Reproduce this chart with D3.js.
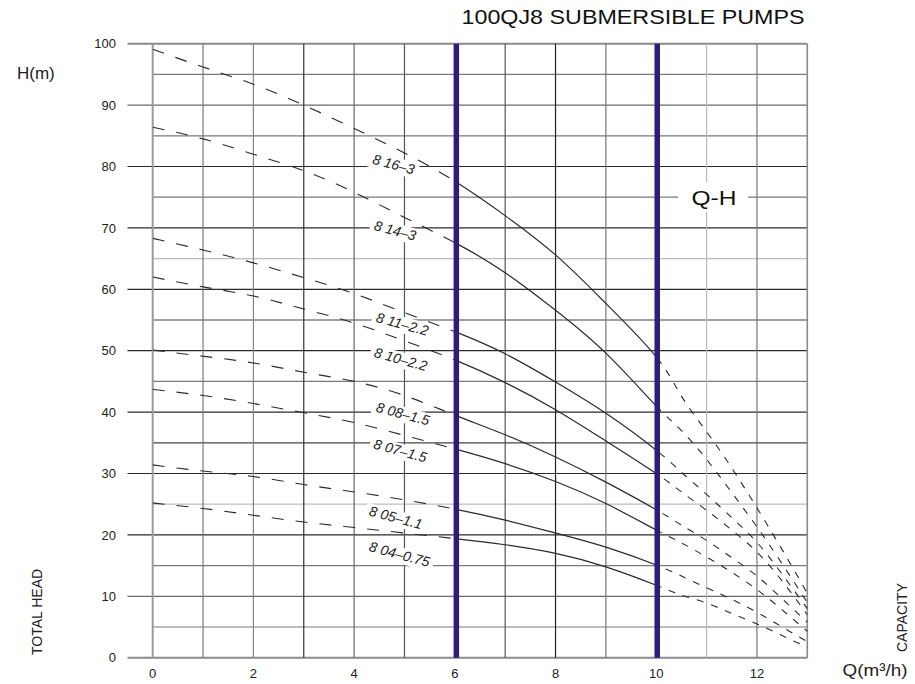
<!DOCTYPE html>
<html><head><meta charset="utf-8">
<script src="https://cdn.jsdelivr.net/npm/d3@7"></script>
<style>
body{margin:0;background:#fff}
svg{display:block;font-family:"Liberation Sans",Arial,Helvetica,sans-serif}
</style>
</head><body>
<svg id="chart" width="915" height="684"></svg>
<script>
// ---------------- DATA ----------------
const flow = [0,1,2,3,4,5,6,7,8,9,10,10.5,11,11.5,12,12.5,13];
const modelNames = ["8 16–3","8 14–3","8 11–2.2","8 10–2.2","8 08–1.5","8 07–1.5","8 05–1.1","8 04–0.75"];
const head_16_3  = [99.1,96.2,93.4,90.0,86.2,82.2,77.6,72.0,65.6,57.7,49.0,42.6,36.8,30.9,24.4,17.6,10.5];
const head_14_3  = [86.4,84.5,82.0,79.3,75.8,71.7,67.6,62.7,56.6,49.6,41.0,37.0,32.3,26.9,21.3,15.3,9.0];
const head_11_22 = [68.3,66.4,64.3,61.9,59.3,56.2,53.1,49.5,44.9,39.8,33.8,30.2,26.6,22.8,18.8,13.6,8.0];
const head_10_22 = [62.0,60.4,58.9,56.8,54.5,51.6,48.5,44.8,40.4,35.3,30.0,27.0,24.0,20.8,17.2,12.5,7.0];
const head_08_15 = [50.1,49.1,48.0,46.5,45.0,42.7,39.5,36.3,32.7,28.6,24.1,21.6,19.1,16.3,13.3,9.6,5.8];
const head_07_15 = [43.7,42.7,41.4,39.9,38.3,36.2,34.0,31.6,28.7,25.1,20.8,18.7,16.4,13.9,11.1,7.8,4.3];
const head_05_11 = [31.4,30.4,29.5,28.2,27.0,25.7,24.2,22.4,20.3,18.0,15.1,13.3,11.4,9.5,7.4,5.0,2.6];
const head_04_075= [25.2,24.3,23.2,22.1,21.2,20.3,19.4,18.4,17.0,14.8,11.8,10.2,8.9,7.2,5.5,3.6,1.7];
const heads = [head_16_3,head_14_3,head_11_22,head_10_22,head_08_15,head_07_15,head_05_11,head_04_075];
// annotation anchors (data units) for model labels
const labelQ = [4.35,4.38,4.42,4.38,4.42,4.37,4.28,4.28];
const labelH = [80.5,69.7,54.7,49.0,40.1,34.1,23.2,17.4];
const ratedRange = [6.03, 10.02];
const xTickValues = [0,2,4,6,8,10,12];
const yTickValues = [0,10,20,30,40,50,60,70,80,90,100];
const gridQ = [0,1,2,3,4,5,6,7,8,9,10,11,12,13];
const gridH = d3.range(0,101,5);
const titleText = "100QJ8 SUBMERSIBLE PUMPS";

// ---------------- SCALES ----------------
const svg = d3.select("#chart");
const x = d3.scaleLinear().domain([0,13]).range([152.7,807.3]);
const y = d3.scaleLinear().domain([0,100]).range([657.7,43.7]);

svg.append("rect").attr("width",915).attr("height",684).attr("fill","#fff");

const defs = svg.append("defs");
const clipDefs = [["clipL",0,6],["clipM",6,10],["clipR",10,13.2]];
clipDefs.forEach(([id,a,b]) => {
  defs.append("clipPath").attr("id",id).append("rect")
    .attr("x", x(a)).attr("y", 0).attr("width", x(b)-x(a)).attr("height", 684);
});

const gGrid = svg.append("g");
const gBg = svg.append("g");
const gCurves = svg.append("g");
const gPurple = svg.append("g");
const gText = svg.append("g");

// horizontal grid
const hColor = h => {
  if (h===0 || h===100) return "#8a8a8a";
  if (h===65 || h===25) return "#bdbdbd";
  if (h===10 || h===90) return "#6a6a6a";
  if (h%10===0) return "#2a2a2a";
  if (h===55 || h===35) return "#444";
  return "#7a7a7a";
};
gGrid.selectAll("line.h").data(gridH).join("line")
  .attr("x1", h => (h%10===0) ? 127.5 : x(0))
  .attr("x2", x(13))
  .attr("y1", h => y(h)).attr("y2", h => y(h))
  .attr("stroke", hColor)
  .attr("stroke-width", h => (h===0||h===100) ? 2 : 1.2);

// vertical grid
const vColor = q => ({0:"#9a9a9a",1:"#7a7a7a",2:"#858585",3:"#333",4:"#666",5:"#555",6:"#555",7:"#555",8:"#222",9:"#777",10:"#555",11:"#bbb",12:"#777",13:"#8a8a8a"}[q]);
gGrid.selectAll("line.v").data(gridQ).join("line")
  .attr("x1", q => x(q)).attr("x2", q => x(q))
  .attr("y1", y(100)).attr("y2", y(0))
  .attr("stroke", vColor)
  .attr("stroke-width", q => (q===0) ? 2 : (q===13 ? 1.6 : 1.2));

// ---------------- CURVES ----------------
const line = d3.line().x(d => x(d[0])).y(d => y(d[1])).curve(d3.curveNatural);
heads.forEach((hs) => {
  const d = line(flow.map((q,i) => [q, hs[i]]));
  gCurves.append("path").attr("d", d).attr("fill","none").attr("clip-path","url(#clipL)")
    .attr("stroke","#2b2b2b").attr("stroke-width",1.1).attr("stroke-dasharray","12,12");
  gCurves.append("path").attr("d", d).attr("fill","none").attr("clip-path","url(#clipM)")
    .attr("stroke","#2b2b2b").attr("stroke-width",1.2);
  gCurves.append("path").attr("d", d).attr("fill","none").attr("clip-path","url(#clipR)")
    .attr("stroke","#2b2b2b").attr("stroke-width",1.1).attr("stroke-dasharray","7,8");
});

// purple rated-range lines
gPurple.selectAll("line").data(ratedRange).join("line")
  .attr("x1", q => x(q)).attr("x2", q => x(q))
  .attr("y1", y(100)).attr("y2", y(0))
  .attr("stroke","#311b78").attr("stroke-width",5.5);

// ---------------- MODEL LABELS ----------------
modelNames.forEach((name,i) => {
  const g = gText.append("g")
    .attr("transform", `translate(${x(labelQ[i])},${y(labelH[i])}) rotate(15)`);
  const t = g.append("text").text(name)
    .attr("font-size",14).attr("font-style","italic").attr("fill","#222");
  const w = t.node().getComputedTextLength();
  gBg.append("rect")
    .attr("transform", `translate(${x(labelQ[i])},${y(labelH[i])}) rotate(15)`)
    .attr("x",-4).attr("y",-12).attr("width",w+8).attr("height",16).attr("fill","#fff");
});

// Q-H label
gBg.append("rect").attr("x",678).attr("y",182).attr("width",70).attr("height",30).attr("fill","#fff");
gText.append("text").attr("x",691.5).attr("y",205).text("Q-H")
  .attr("font-size",20).attr("textLength",45).attr("lengthAdjust","spacingAndGlyphs").attr("fill","#111");

// ---------------- AXIS LABELS ----------------
gText.selectAll("text.yt").data(yTickValues).join("text")
  .attr("x",116).attr("y", v => y(v)+4.6).attr("text-anchor","end")
  .attr("font-size",13).attr("fill","#222").text(v => v);
gText.selectAll("text.xt").data(xTickValues).join("text")
  .attr("x", v => x(v)).attr("y",678).attr("text-anchor","middle")
  .attr("font-size",13).attr("fill","#222").text(v => v);

gText.append("text").attr("x",461.5).attr("y",23.5).text(titleText)
  .attr("font-size",21).attr("textLength",343).attr("lengthAdjust","spacingAndGlyphs").attr("fill","#111");
gText.append("text").attr("x",17).attr("y",79).text("H(m)").attr("font-size",17).attr("fill","#222");
gText.append("text").attr("transform","translate(41.5,655) rotate(-90)").text("TOTAL HEAD")
  .attr("font-size",14).attr("fill","#222");
gText.append("text").attr("transform","translate(907,652) rotate(-90)").text("CAPACITY")
  .attr("font-size",14).attr("fill","#222");
gText.append("text").attr("x",842.5).attr("y",676).text("Q(m³/h)")
  .attr("font-size",17).attr("textLength",65).attr("lengthAdjust","spacingAndGlyphs").attr("fill","#222");
</script>
</body></html>
